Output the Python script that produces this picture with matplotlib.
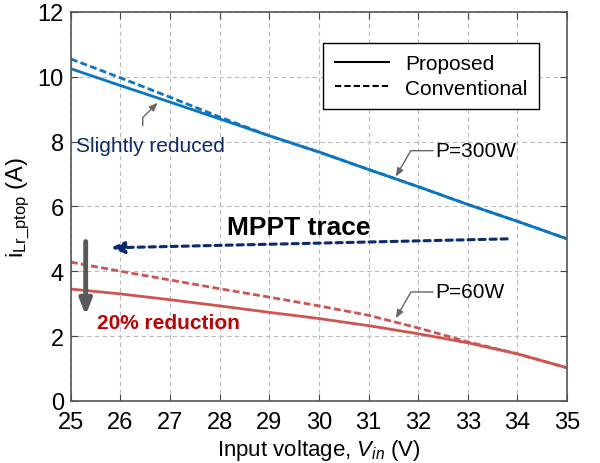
import matplotlib
matplotlib.use("Agg")
import matplotlib.pyplot as plt

plt.rcParams["font.family"] = ["Liberation Sans", "DejaVu Sans"]
plt.rcParams["mathtext.fontset"] = "custom"
plt.rcParams["mathtext.rm"] = "Liberation Sans"
plt.rcParams["mathtext.it"] = "Liberation Sans:italic"

# data
vin = [25, 26, 27, 28, 29, 30, 31, 32, 33, 34, 35]
p300_proposed = [10.25, 9.73, 9.22, 8.70, 8.18, 7.68, 7.14, 6.61, 6.06, 5.54, 5.00]
p300_conventional = [10.55, 9.97, 9.37, 8.76, 8.18, 7.68, 7.14, 6.61, 6.06, 5.54, 5.00]
p60_proposed = [3.45, 3.30, 3.12, 2.93, 2.73, 2.54, 2.32, 2.07, 1.79, 1.45, 1.02]
p60_conventional = [4.28, 4.00, 3.73, 3.46, 3.20, 2.93, 2.64, 2.25, 1.82, 1.45, 1.02]

blue = "#0b74c4"
red = "#cf5450"
navy = "#0c2a6e"

fig = plt.figure(figsize=(6, 4.64), dpi=100)
ax = fig.add_axes([0.118, 0.134, 0.827, 0.838])

ax.plot(vin, p300_proposed, color=blue, lw=2)
ax.plot(vin, p300_conventional, color=blue, lw=2, ls=(0, (2.5, 1.2)))
ax.plot(vin, p60_proposed, color=red, lw=2)
ax.plot(vin, p60_conventional, color=red, lw=2, ls=(0, (2.5, 1.2)))

# legend with black proxy lines
h1, = ax.plot([], [], color="black", lw=1.5)
h2, = ax.plot([], [], color="black", lw=1.5, ls=(0, (3, 1.5)))
leg = ax.legend([h1, h2], ["Proposed", "Conventional"], loc="upper right",
                bbox_to_anchor=(0.965, 0.947), fontsize=15, fancybox=False,
                framealpha=1, edgecolor="black", handlelength=2.6,
                borderpad=0.55, labelspacing=0.25)
leg.get_frame().set_linewidth(1.0)

ax.set_xlim(25, 35)
ax.set_ylim(0, 12)
ax.set_xticks(range(25, 36))
ax.set_yticks(range(0, 13, 2))
ax.tick_params(direction="in", top=True, right=True, labelsize=17, length=5,
               color="#444444", pad=5)
ax.tick_params(axis="x", pad=7)
ax.grid(True, ls=(0, (4, 3)), color="#bbbbbb", lw=0.8)
for s in ax.spines.values():
    s.set_color("#555555")
    s.set_linewidth(1.2)

ax.set_xlabel("Input voltage, $V_{in}$ (V)", fontsize=16, labelpad=3)
ax.set_ylabel("i$_{\\mathrm{Lr\\_ptop}}$ (A)", fontsize=17, labelpad=4)

# annotations
ax.annotate("", xy=(25.75, 4.72), xytext=(33.85, 5.0),
            arrowprops=dict(arrowstyle="-|>,head_length=0.8,head_width=0.35",
                            color=navy, lw=2.2, ls=(0, (2, 1.6))))
ax.text(29.6, 5.35, "MPPT trace", fontsize=19, fontweight="bold", ha="center", va="center")

ax.annotate("", xy=(25.3, 2.55), xytext=(25.3, 5.0),
            arrowprops=dict(arrowstyle="-|>,head_length=0.9,head_width=0.35",
                            color="#595959", lw=3.5))
ax.text(25.52, 2.42, "20% reduction", fontsize=15, fontweight="bold",
        color="#c00000", ha="left", va="center")

ax.text(25.1, 7.87, "Slightly reduced", fontsize=15, color=navy, ha="left", va="center")
ax.annotate("", xy=(26.75, 9.2), xytext=(26.45, 8.5),
            arrowprops=dict(arrowstyle="-|>,head_length=0.5,head_width=0.2",
                            color="#666666", lw=1, shrinkA=0, shrinkB=0,
                            connectionstyle="angle,angleA=90,angleB=45,rad=0"))

ax.text(32.35, 7.72, "P=300W", fontsize=15, ha="left", va="center")
ax.annotate("", xy=(31.55, 6.92), xytext=(32.3, 7.72),
            arrowprops=dict(arrowstyle="-|>,head_length=0.5,head_width=0.2",
                            color="#666666", lw=1, shrinkA=0, shrinkB=0,
                            connectionstyle="angle,angleA=180,angleB=60,rad=0"))

ax.text(32.35, 3.36, "P=60W", fontsize=15, ha="left", va="center")
ax.annotate("", xy=(31.55, 2.55), xytext=(32.3, 3.36),
            arrowprops=dict(arrowstyle="-|>,head_length=0.5,head_width=0.2",
                            color="#666666", lw=1, shrinkA=0, shrinkB=0,
                            connectionstyle="angle,angleA=180,angleB=60,rad=0"))

fig.savefig("out.png", dpi=100)
